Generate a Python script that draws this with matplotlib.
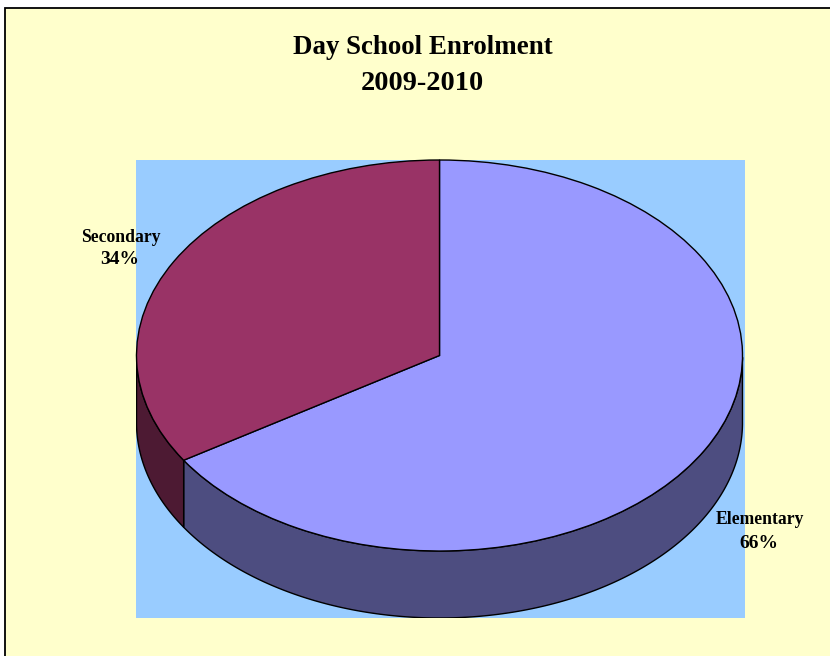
import matplotlib
matplotlib.use('Agg')
import matplotlib.pyplot as plt
from matplotlib.patches import Rectangle
import numpy as np

categories = ['Elementary', 'Secondary']
shares = [66, 34]
top_colors = ['#9999FF', '#993366']
side_colors = ['#4D4D80', '#4D1A33']

W, H = 830, 656
cx, cy, rx, ry = 439.5, 355.5, 303.0, 195.5
depth = 67 / ry

plt.rcParams['font.family'] = ['Liberation Serif', 'DejaVu Serif']
plt.rcParams['font.weight'] = 'bold'

fig = plt.figure(figsize=(W / 100, H / 100), dpi=100, facecolor='#FFFFFF')

# fond i okvir
fig.patches.append(Rectangle((5 / W, -0.01), 1, 1 - 7.5 / H + 0.01, transform=fig.transFigure,
                             facecolor='#FFFFCC', edgecolor='black', linewidth=1.3, zorder=-1))

# plot area, unit circle of the pie maps onto the ellipse
left, right, top, bottom = 136, 745, 160, 618
ax = fig.add_axes([left / W, 1 - bottom / H, (right - left) / W, (bottom - top) / H])
ax.pie(shares, colors=top_colors, startangle=90, counterclock=False, radius=1,
       wedgeprops=dict(edgecolor='black', linewidth=1.0, zorder=5))
ax.set_aspect('auto')
ax.set_xlim((left - cx) / rx, (right - cx) / rx)
ax.set_ylim((cy - bottom) / ry, (cy - top) / ry)
ax.set_frame_on(True)
ax.set_facecolor('#99CCFF')
for s in ax.spines.values():
    s.set_visible(False)

# bocne stranice, kutovi racunati od udjela (od vrha u smjeru kazaljke)
start = 0.0
for val, col in zip(shares, side_colors):
    end = start + val / sum(shares) * 2 * np.pi
    t = np.linspace(start, end, 400)
    t = t[np.cos(t) <= 1e-9]
    x = np.sin(t)
    y = np.cos(t)
    ax.fill(np.r_[x, x[::-1]], np.r_[y, y[::-1] - depth], facecolor=col,
            edgecolor='black', linewidth=1.0, zorder=2)
    start = end

fig.text(422.5 / W, 1 - 48 / H, 'Day School Enrolment', fontsize=19.4, ha='center', va='center')
fig.text(422.5 / W, 1 - 84 / H, '2009-2010', fontsize=20.4, ha='center', va='center')

label_pos = [(760, 520, 544), (121, 237, 259)]
for name, val, (lx, ly1, ly2) in zip(categories, shares, label_pos):
    fig.text(lx / W, 1 - ly1 / H, name, fontsize=12.7, ha='center', va='center', zorder=6)
    fig.text(lx / W - 1 / W, 1 - ly2 / H, str(val) + '%', fontsize=14, ha='center', va='center', zorder=6)

fig.savefig('out.png', dpi=100)
